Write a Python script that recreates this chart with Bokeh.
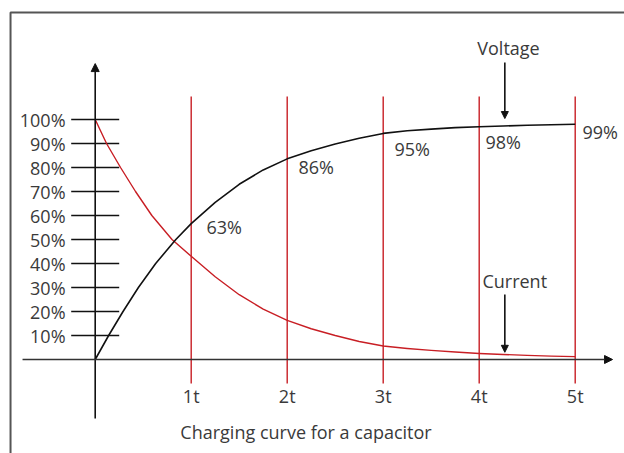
from bokeh.plotting import figure
from bokeh.models import Arrow, NormalHead, Range1d
from bokeh.core.properties import value
from bokeh.embed import file_html
from bokeh.resources import INLINE

# ---- data ----
t_current = [0, 0.118, 0.264, 0.42, 0.59, 0.8, 1.0, 1.25, 1.5, 1.75, 2.0, 2.25, 2.5,
             2.75, 3.0, 3.25, 3.5, 3.75, 4.0, 4.25, 4.5, 4.75, 5.0]
current = [100, 90, 80, 70, 60, 50, 43, 34.5, 27, 21, 16.3, 12.8, 10,
           7.5, 5.6, 4.6, 3.8, 3.1, 2.5, 2.1, 1.7, 1.4, 1.2]
t_voltage = [0, 0.14, 0.29, 0.45, 0.63, 0.84, 1.0, 1.25, 1.5, 1.75, 2.0, 2.25, 2.5,
             2.75, 3.0, 3.25, 3.5, 3.75, 4.0, 4.25, 4.5, 4.75, 5.0]
voltage = [0, 10, 20, 30, 40, 50, 56.6, 65.5, 73, 79, 83.6, 87, 89.8,
           92.2, 94.2, 95.3, 96, 96.6, 97, 97.3, 97.6, 97.8, 98]

y_ticks = [10, 20, 30, 40, 50, 60, 70, 80, 90, 100]
y_tick_labels = ["10%", "20%", "30%", "40%", "50%", "60%", "70%", "80%", "90%", "100%"]
x_ticks = [1, 2, 3, 4, 5]
x_tick_labels = ["1t", "2t", "3t", "4t", "5t"]
pct_labels = ["63%", "86%", "95%", "98%", "99%"]

title_text = "Charging curve for a capacitor"

# ---- label placement (positions, not data) ----
pct_x = [1.159, 2.117, 3.118, 4.065, 5.076]
pct_y = [55.4, 80.1, 87.9, 90.8, 94.6]

FONT = value("Open Sans")
FS = "18px"
TXT = "#3a3a3a"
RED = "#c81e24"
W, H = 624, 453
X0, PXT = 94.7, 96.0      # origin pixel / pixels per time constant
Y0, PXV = 359.0, 2.4      # origin pixel / pixels per percent

p = figure(width=W, height=H, output_backend="svg", toolbar_location=None,
           x_range=Range1d(-X0 / PXT, (W - X0) / PXT),
           y_range=Range1d((Y0 - H) / PXV, Y0 / PXV),
           min_border=0, outline_line_color=None)
p.axis.visible = False
p.grid.visible = False
p.background_fill_color = "white"
p.border_fill_color = "white"

# frame
p.line([-0.882, -0.882, 6.0], [-45, 144.6, 144.6], line_color="#555555", line_width=2)

# red vertical lines at time constants
p.segment(x0=x_ticks, y0=[-10] * 5, x1=x_ticks, y1=[109.6] * 5,
          line_color=RED, line_width=1.4)

# y-axis tick marks
p.segment(x0=[-0.25] * len(y_ticks), y0=y_ticks, x1=[0.25] * len(y_ticks), y1=y_ticks,
          line_color="#111111", line_width=1.6)

# axes with arrows
p.add_layout(Arrow(x_start=0, y_start=-24.6, x_end=0, y_end=123.3,
                   line_color="#111111", line_width=1.6,
                   end=NormalHead(size=8, fill_color="#111111", line_color="#111111")))
p.add_layout(Arrow(x_start=-0.757, y_start=0, x_end=5.389, y_end=0,
                   line_color="#333333", line_width=1.6,
                   end=NormalHead(size=8, fill_color="#111111", line_color="#111111")))

# curves
p.line(t_current, current, line_color=RED, line_width=1.4, line_join="round")
p.line(t_voltage, voltage, line_color="#111111", line_width=1.6, line_join="round")

# tick labels
p.text(x=[-0.309] * len(y_ticks), y=y_ticks, text=y_tick_labels,
       text_font=FONT, text_font_size=FS, text_color=TXT,
       text_align="right", text_baseline="middle")
p.text(x=x_ticks, y=[-15.2] * 5, text=x_tick_labels,
       text_font=FONT, text_font_size=FS, text_color=TXT,
       text_align="center", text_baseline="middle")

# percentage labels
p.text(x=pct_x, y=pct_y, text=pct_labels,
       text_font=FONT, text_font_size=FS, text_color=TXT,
       text_align="left", text_baseline="middle")

# Voltage / Current annotations
p.text(x=[4.305], y=[130.0], text=["Voltage"],
       text_font=FONT, text_font_size=FS, text_color=TXT,
       text_align="center", text_baseline="middle")
p.add_layout(Arrow(x_start=4.267, y_start=123.75, x_end=4.267, y_end=100.4,
                   line_color="#111111", line_width=1.6,
                   end=NormalHead(size=7, fill_color="#111111", line_color="#111111")))
p.text(x=[4.37], y=[32.7], text=["Current"],
       text_font=FONT, text_font_size=FS, text_color=TXT,
       text_align="center", text_baseline="middle")
p.add_layout(Arrow(x_start=4.267, y_start=27.1, x_end=4.267, y_end=3.0,
                   line_color="#111111", line_width=1.6,
                   end=NormalHead(size=7, fill_color="#111111", line_color="#111111")))

# caption
p.text(x=[2.196], y=[-30.4], text=[title_text],
       text_font=FONT, text_font_size=FS, text_color=TXT,
       text_align="center", text_baseline="middle")

open("out.html", "w").write(file_html(p, INLINE))
